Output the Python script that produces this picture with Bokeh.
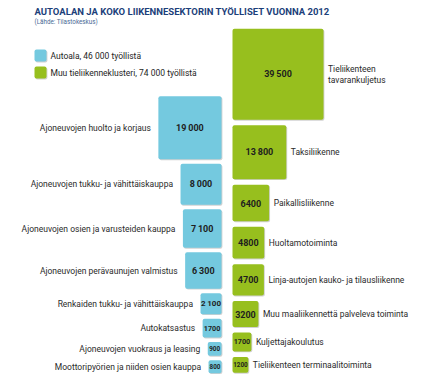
import numpy as np
from bokeh.plotting import figure
from bokeh.models import Range1d, ColumnDataSource
from bokeh.core.properties import value
from bokeh.embed import file_html
from bokeh.resources import INLINE

# ---------------- data ----------------
title_text = "AUTOALAN JA KOKO LIIKENNESEKTORIN TYÖLLISET VUONNA 2012"
source_text = "(Lähde: Tilastokeskus)"
legend_labels = ["Autoala, 46 000 työllistä",
                 "Muu tieliikenneklusteri, 74 000 työllistä"]

auto_categories = ["Ajoneuvojen huolto ja korjaus",
                   "Ajoneuvojen tukku- ja vähittäiskauppa",
                   "Ajoneuvojen osien ja varusteiden kauppa",
                   "Ajoneuvojen perävaunujen valmistus",
                   "Renkaiden tukku- ja vähittäiskauppa",
                   "Autokatsastus",
                   "Ajoneuvojen vuokraus ja leasing",
                   "Moottoripyörien ja niiden osien kauppa"]
auto_values = [19000, 8000, 7100, 6300, 2100, 1700, 900, 800]

other_categories = ["Tieliikenteen\ntavarankuljetus",
                    "Taksiliikenne",
                    "Paikallisliikenne",
                    "Huoltamotoiminta",
                    "Linja-autojen kauko- ja tilausliikenne",
                    "Muu maaliikennettä palveleva toiminta",
                    "Kuljettajakoulutus",
                    "Tieliikenteen terminaalitoiminta"]
other_values = [39500, 13800, 6400, 4800, 4700, 3200, 1700, 1200]

# ---------------- style / layout ----------------
BLUE = "#74c9df"
GREEN = "#97bf1e"
TITLE_C = "#1c3f7a"
TEXT_C = "#2b2b2b"
FONT = "Roboto"
K = 0.458  # px per sqrt(person)
SH = 0.9   # shadow offset


def stack(values, top, bottom):
    sides = K * np.sqrt(np.array(values, dtype=float))
    gap = (bottom - top - sides.sum()) / (len(values) - 1)
    tops = top + np.concatenate([[0], np.cumsum(sides[:-1] + gap)])
    return sides, tops


def fmt(v, thresh):
    if v >= thresh:
        return f"{v:,}".replace(",", "\u2009")
    return str(v)


def fsize(s):
    return f"{min(9.0, max(6.3, s * 0.38)):.1f}px"


def boxes(left, right, top, bottom, **extra):
    left, right, top, bottom = map(np.asarray, (left, right, top, bottom))
    d = dict(left=left, right=right, top=top, bottom=bottom,
             sl=left + SH, sr=right + SH, st=top + SH, sb=bottom + SH)
    d.update(extra)
    return ColumnDataSource(d)


p = figure(width=444, height=382, x_range=Range1d(0, 444), y_range=Range1d(382, 0),
           output_backend="svg", toolbar_location=None, min_border=0,
           outline_line_color=None, background_fill_color="white")
p.axis.visible = False
p.grid.visible = False

# auto column (right-aligned)
a_side, a_top = stack(auto_values, 95.7, 372.7)
a_right = 221.0
a_src = boxes(a_right - a_side, np.full(len(a_side), a_right), a_top, a_top + a_side,
              cx=a_right - a_side / 2, cy=a_top + a_side / 2,
              lx=a_right - a_side - 7.5,
              vlab=[fmt(v, 2000) for v in auto_values],
              fs=[fsize(s) for s in a_side],
              cat=auto_categories)

# other column (left-aligned)
o_side, o_top = stack(other_values, 28.3, 372.3)
o_left = 232.0
o_src = boxes(np.full(len(o_side), o_left), o_left + o_side, o_top, o_top + o_side,
              cx=o_left + o_side / 2, cy=o_top + o_side / 2,
              lx=o_left + o_side + 4.5,
              vlab=[fmt(v, 10000) for v in other_values],
              fs=[fsize(s) for s in o_side],
              cat=other_categories)


def draw_boxes(src, col):
    p.quad(left="sl", right="sr", top="st", bottom="sb", source=src,
           fill_color="#9a9a9a", fill_alpha=0.45, line_color=None, border_radius=2)
    p.quad(left="left", right="right", top="top", bottom="bottom", source=src,
           fill_color=col, line_color=None, border_radius=2)


for src, col in ((a_src, BLUE), (o_src, GREEN)):
    draw_boxes(src, col)
    p.text(x="cx", y="cy", text="vlab", source=src, text_align="center",
           text_baseline="middle", text_font=value(FONT), text_font_style="bold",
           text_font_size="fs", text_color="#1e1e1e")

p.text(x="lx", y="cy", text="cat", source=a_src, text_align="right",
       text_baseline="middle", text_font=value(FONT), text_font_size="8.5px",
       text_color=TEXT_C)
p.text(x="lx", y="cy", text="cat", source=o_src, text_align="left",
       text_baseline="middle", text_font=value(FONT), text_font_size="8.5px",
       text_color=TEXT_C, text_line_height=1.15)

# title and source
p.text(x=[34], y=[10.8], text=[title_text], text_baseline="middle",
       text_font=value(FONT), text_font_style="bold", text_font_size="9.5px",
       text_color=TITLE_C)
p.text(x=[34], y=[21], text=[source_text], text_baseline="middle",
       text_font=value(FONT), text_font_size="6.3px", text_color="#4a6a95")

# legend
leg_src = boxes([34, 34], [46, 46], [49, 66], [61, 78], col=[BLUE, GREEN],
                tx=[50, 50], ty=[55, 72], lab=legend_labels)
p.quad(left="sl", right="sr", top="st", bottom="sb", source=leg_src,
       fill_color="#9a9a9a", fill_alpha=0.45, line_color=None, border_radius=2)
p.quad(left="left", right="right", top="top", bottom="bottom", source=leg_src,
       fill_color="col", line_color=None, border_radius=2)
p.text(x="tx", y="ty", text="lab", source=leg_src, text_baseline="middle",
       text_font=value(FONT), text_font_size="8.5px", text_color="#1e1e1e")

open("out.html", "w").write(file_html(p, INLINE))
